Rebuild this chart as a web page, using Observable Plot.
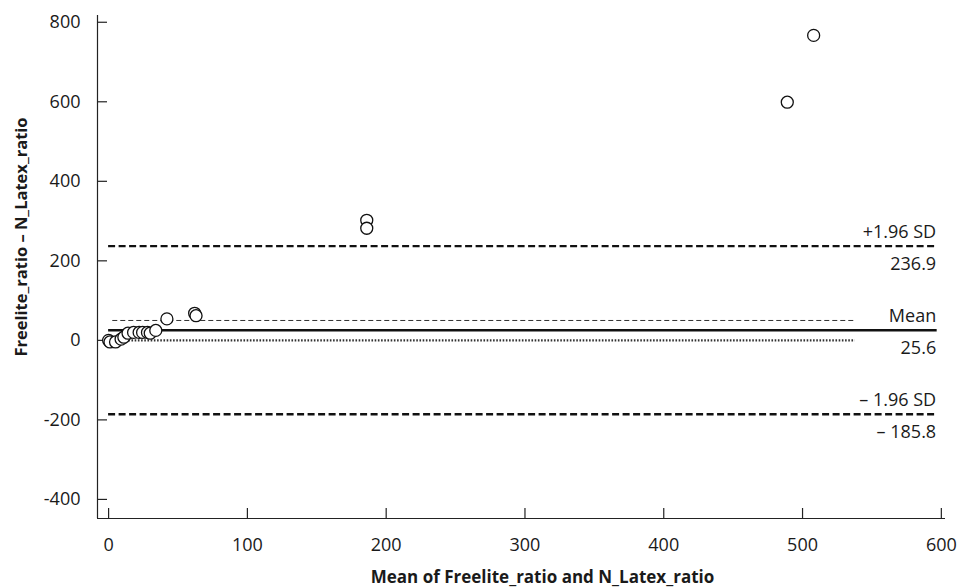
<!DOCTYPE html>
<html>
<head>
<meta charset="utf-8">
<script src="https://cdn.jsdelivr.net/npm/d3@7"></script>
<script src="https://cdn.jsdelivr.net/npm/@observablehq/plot@0.6"></script>
<style>
  html, body { margin: 0; padding: 0; background: #fff; }
  #chart svg { display: block; }
</style>
</head>
<body>
<div id="chart"></div>
<script>
// Data: mean of the two methods (x) and their difference (y)
const meanValues = [0, 1, 5, 9, 11, 14, 18, 22, 24.5, 28, 30, 34, 42, 62, 63, 186, 186, 489, 508];
const diffValues = [0, -4, -4, 3, 8, 18, 20, 20, 20, 20, 18, 25, 54, 68, 62, 302, 282, 599, 767];

// Bland–Altman limit lines
const limitNames = ["+1.96 SD", "Mean", "– 1.96 SD"];
const limitValues = [236.9, 25.6, -185.8];
const limitLabels = ["236.9", "25.6", "– 185.8"];
const limitStyles = ["dash", "solid", "dash"];
const limitStart = 0;
const limitEnd = 597;

// Thin extra lines (upper mean CI dashed, line of equality dotted)
const extraValues = [50, 0];
const extraStart = 3;
const extraEnd = 538;

const xTicks = [0, 100, 200, 300, 400, 500, 600];
const yTicks = [-400, -200, 0, 200, 400, 600, 800];

const xDomain = [-8, 603];
const yDomain = [-448, 817];

const points = meanValues.map((m, i) => ({x: m, y: diffValues[i]}));
const limits = limitValues.map((v, i) => ({name: limitNames[i], value: v, label: limitLabels[i], style: limitStyles[i]}));

const W = 966, H = 588;
const mL = 97, mR = 21, mT = 15, mB = 70;
const innerW = W - mL - mR, innerH = H - mT - mB;

const font = "'Open Sans', sans-serif";

const chart = Plot.plot({
  width: W,
  height: H,
  marginLeft: mL,
  marginRight: mR,
  marginTop: mT,
  marginBottom: mB,
  style: {fontFamily: font, fontSize: "18px", color: "#1a1a1a", background: "#fff"},
  x: {domain: xDomain},
  y: {domain: yDomain},
  marks: [
    // axis lines
    Plot.ruleX([xDomain[0]], {stroke: "#222", strokeWidth: 1.2}),
    Plot.ruleY([yDomain[0]], {stroke: "#222", strokeWidth: 1.2}),
    // inward ticks
    Plot.tickX(xTicks, {x: d => d, insetTop: innerH - 10, stroke: "#222", strokeWidth: 1.2}),
    Plot.tickY(yTicks, {y: d => d, insetRight: innerW - 10, stroke: "#222", strokeWidth: 1.2}),
    Plot.axisX(xTicks, {tickSize: 0, tickPadding: 20, label: null, fontSize: 18}),
    Plot.axisY(yTicks, {tickSize: 0, tickPadding: 17, label: null, fontSize: 18, tickFormat: d => String(d)}),
    // extra thin lines
    Plot.ruleY([extraValues[0]], {x1: extraStart, x2: extraEnd, stroke: "#333", strokeWidth: 1, strokeDasharray: "5,3"}),
    Plot.ruleY([extraValues[1]], {x1: extraStart, x2: extraEnd, stroke: "#333", strokeWidth: 2.4, strokeDasharray: "1.6,1.6"}),
    // limits
    Plot.ruleY(limits.filter(d => d.style === "dash"), {y: "value", x1: limitStart, x2: limitEnd, stroke: "#111", strokeWidth: 2.4, strokeDasharray: "7,3.5"}),
    Plot.ruleY(limits.filter(d => d.style === "solid"), {y: "value", x1: limitStart, x2: limitEnd, stroke: "#111", strokeWidth: 2.4}),
    Plot.text(limits, {x: limitEnd, y: "value", text: "name", textAnchor: "end", dy: -14, dx: -1, fontSize: 18, fill: "#1a1a1a"}),
    Plot.text(limits, {x: limitEnd, y: "value", text: "label", textAnchor: "end", dy: 18, dx: -1, fontSize: 18, fill: "#1a1a1a"}),
    // points
    Plot.dot(points, {x: "x", y: "y", r: 6, fill: "white", stroke: "#111", strokeWidth: 1.3}),
    // axis titles
    Plot.text(["Mean of Freelite_ratio and N_Latex_ratio"], {frameAnchor: "bottom", textAnchor: "middle", lineAnchor: "middle", dx: 21, dy: 59, fontWeight: "bold", fontSize: 17, fill: "#1a1a1a"}),
    Plot.text(["Freelite_ratio – N_Latex_ratio"], {frameAnchor: "left", textAnchor: "middle", lineAnchor: "middle", dx: -76, dy: -30, rotate: -90, fontWeight: "bold", fontSize: 16.5, fill: "#1a1a1a"})
  ]
});

document.getElementById("chart").appendChild(chart);
</script>
</body>
</html>
